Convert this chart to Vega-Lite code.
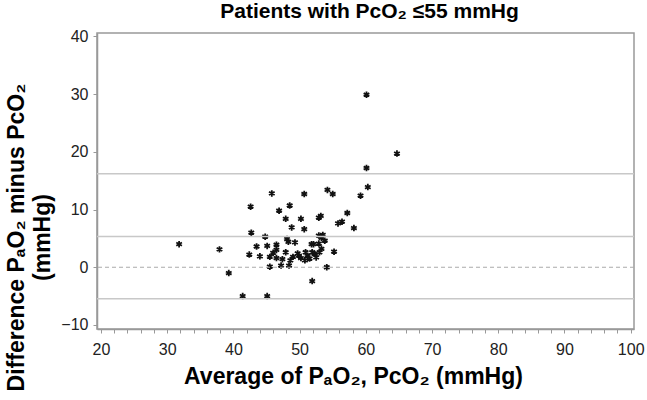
{
  "$schema": "https://vega.github.io/schema/vega-lite/v6.json",
  "width": 537,
  "height": 296,
  "autosize": {"type": "none"},
  "padding": {"left": 97, "top": 33, "right": 13, "bottom": 71},
  "background": "white",
  "config": {
    "font": "Liberation Sans",
    "view": {"stroke": "#999999", "strokeWidth": 1.5},
    "axis": {"grid": false, "domainColor": "#999999", "domainWidth": 1.5, "tickColor": "#999999", "tickWidth": 1, "tickSize": 4, "labelColor": "#222222", "labelFontSize": 16, "titleFontSize": 23, "titleFontWeight": "bold", "titleColor": "#000000"}
  },
  "title": {"text": "Patients with PcO₂ ≤55 mmHg", "fontSize": 21, "fontWeight": "bold", "color": "#000000", "offset": 6, "anchor": "middle", "dx": 4},
  "datasets": {
    "points": [
      {"avg": 31.8, "diff": 4.0}, {"avg": 37.9, "diff": 3.1}, {"avg": 39.3, "diff": -1.0}, {"avg": 41.4, "diff": -5.0},
      {"avg": 45.1, "diff": -5.0}, {"avg": 42.4, "diff": 2.2}, {"avg": 42.7, "diff": 6.0}, {"avg": 42.6, "diff": 10.5},
      {"avg": 45.8, "diff": 12.8}, {"avg": 43.5, "diff": 3.6}, {"avg": 44.8, "diff": 5.3}, {"avg": 45.1, "diff": 3.7},
      {"avg": 45.5, "diff": 1.8}, {"avg": 45.5, "diff": 0.1}, {"avg": 46.5, "diff": 3.9}, {"avg": 46.5, "diff": 3.0},
      {"avg": 46.5, "diff": 1.6}, {"avg": 46.9, "diff": 9.8}, {"avg": 50.7, "diff": 12.7}, {"avg": 54.2, "diff": 13.4},
      {"avg": 55.0, "diff": 12.7}, {"avg": 48.5, "diff": 10.7}, {"avg": 47.9, "diff": 8.4}, {"avg": 50.2, "diff": 8.4},
      {"avg": 52.9, "diff": 8.6}, {"avg": 53.2, "diff": 8.9}, {"avg": 57.2, "diff": 9.4}, {"avg": 48.8, "diff": 6.9},
      {"avg": 50.7, "diff": 6.6}, {"avg": 55.8, "diff": 7.6}, {"avg": 56.4, "diff": 7.9}, {"avg": 48.1, "diff": 4.9},
      {"avg": 48.3, "diff": 4.4}, {"avg": 49.3, "diff": 4.3}, {"avg": 47.9, "diff": 2.6}, {"avg": 47.4, "diff": 1.4},
      {"avg": 47.2, "diff": 0.3}, {"avg": 48.4, "diff": 0.3}, {"avg": 48.6, "diff": 1.2}, {"avg": 49.7, "diff": 2.4},
      {"avg": 49.9, "diff": 2.0}, {"avg": 50.2, "diff": 1.6}, {"avg": 50.9, "diff": 2.6}, {"avg": 51.2, "diff": 2.0},
      {"avg": 50.8, "diff": 1.2}, {"avg": 51.8, "diff": 4.0}, {"avg": 52.1, "diff": 4.0}, {"avg": 52.9, "diff": 4.1},
      {"avg": 51.9, "diff": 2.6}, {"avg": 52.3, "diff": 2.3}, {"avg": 53.0, "diff": 2.6}, {"avg": 53.3, "diff": 3.2},
      {"avg": 52.9, "diff": 5.5}, {"avg": 53.3, "diff": 5.1}, {"avg": 53.5, "diff": 5.6}, {"avg": 53.8, "diff": 4.6},
      {"avg": 55.2, "diff": 2.7}, {"avg": 54.1, "diff": 0.0}, {"avg": 51.9, "diff": -2.4}, {"avg": 64.7, "diff": 19.7},
      {"avg": 60.1, "diff": 17.2}, {"avg": 60.3, "diff": 13.9}, {"avg": 59.2, "diff": 12.4}, {"avg": 58.2, "diff": 6.8},
      {"avg": 60.1, "diff": 29.9}, {"avg": 44.0, "diff": 1.9}, {"avg": 49.0, "diff": 1.8}, {"avg": 51.5, "diff": 1.5},
      {"avg": 52.5, "diff": 1.7}, {"avg": 46.0, "diff": 2.5}
    ],
    "limits": [{"diff": 16.2}, {"diff": 5.35}, {"diff": -5.45}],
    "zero": [{"diff": 0}]
  },
  "layer": [
    {"data": {"name": "points"}, "mark": {"type": "point", "shape": "M0,-1L0,1M-0.87,-0.5L0.87,0.5M-0.87,0.5L0.87,-0.5", "filled": false, "stroke": "#111111", "strokeWidth": 1.8, "size": 42, "opacity": 1},
      "encoding": {
        "x": {"field": "avg", "type": "quantitative", "scale": {"domain": [19.4, 100.5], "nice": false, "zero": false},
          "axis": {"title": "Average of PₐO₂, PcO₂ (mmHg)", "values": [20,22,24,26,28,30,32,34,36,38,40,42,44,46,48,50,52,54,56,58,60,62,64,66,68,70,72,74,76,78,80,82,84,86,88,90,92,94,96,98,100], "labelExpr": "datum.value % 10 === 0 ? datum.label : ''", "labelPadding": 8, "titlePadding": 8, "titleX": 256}},
        "y": {"field": "diff", "type": "quantitative", "scale": {"domain": [-10.7, 40.6], "nice": false, "zero": false},
          "axis": {"title": ["Difference PₐO₂ minus PcO₂", "(mmHg)"], "values": [-10,-7.5,-5,-2.5,0,2.5,5,7.5,10,12.5,15,17.5,20,22.5,25,27.5,30,32.5,35,37.5,40], "labelExpr": "datum.value % 10 === 0 ? datum.label : ''", "labelPadding": 5, "titlePadding": 6, "titleLineHeight": 26, "titleY": 204}}
      }
    },
    {"data": {"name": "limits"}, "mark": {"type": "rule", "color": "#c8c8c8", "strokeWidth": 1.5}, "encoding": {"y": {"field": "diff", "type": "quantitative"}}},
    {"data": {"name": "zero"}, "mark": {"type": "rule", "color": "#aaaaaa", "strokeWidth": 1, "strokeDash": [4, 3]}, "encoding": {"y": {"field": "diff", "type": "quantitative"}}}
  ]
}
